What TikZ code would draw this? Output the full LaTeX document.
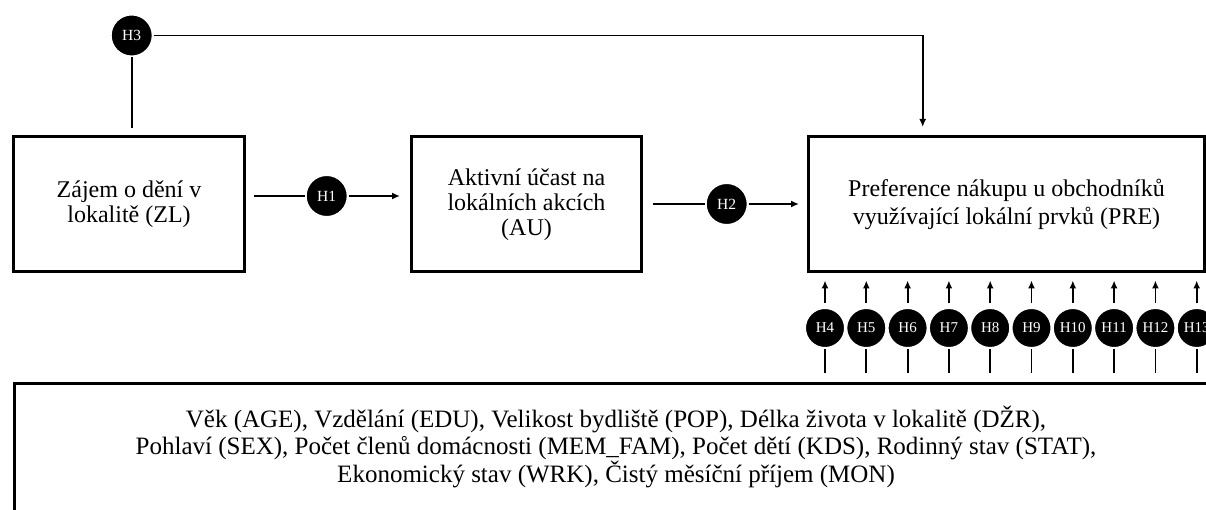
\documentclass[tikz,border=0pt]{standalone}
\usepackage{fontspec}
\setmainfont{Liberation Serif}
\usetikzlibrary{arrows.meta}

\begin{document}
\begin{tikzpicture}[x=1pt,y=-1pt,
  box/.style={draw=black, line width=3pt, inner sep=0pt, align=center,
    anchor=north west, font=\fontsize{24}{25}\selectfont},
  hyp/.style={circle, fill=black, draw=white, line width=2pt, inner sep=0pt,
    minimum size=42pt, text=white, font=\fontsize{15.5}{16}\selectfont},
  hypsmall/.style={hyp, minimum size=40pt, font=\fontsize{15}{16}\selectfont},
  conn/.style={line width=1.8pt},
  arr/.style={conn, -{Latex[length=8pt,width=7pt]}},
]
\useasboundingbox (0,0) rectangle (1206,510);
\clip (0,0) rectangle (1206,510);

% main constructs
\node[box, minimum width=231pt, minimum height=135.5pt] (zl) at (12,135)
  {Zájem o dění v\\lokalitě (ZL)};
\node[box, minimum width=230pt, minimum height=135.5pt] (au) at (410,135)
  {Aktivní účast na\\lokálních akcích\\(AU)};
\node[box, minimum width=396pt, minimum height=135.5pt,
  font=\fontsize{24}{28.5}\selectfont] (pre) at (807,135)
  {Preference nákupu u obchodníků\\využívající lokální prvků (PRE)};

% socio-demographic variables
\node[box, minimum width=1205pt, minimum height=150pt] (demo) at (13,382) {};
\node[align=center, font=\fontsize{25}{26.5}\selectfont] (demotxt) at (616,447)
  {Věk (AGE), Vzdělání (EDU), Velikost bydliště (POP), Délka života v lokalitě (DŽR),\\
   Pohlaví (SEX), Počet členů domácnosti (MEM\_FAM), Počet dětí (KDS), Rodinný stav (STAT),\\
   Ekonomický stav (WRK), Čistý měsíční příjem (MON)};

% hypotheses between constructs
\node[hyp] (h3) at (131.7,35.5) {H3};
\node[hyp] (h1) at (326.7,196) {H1};
\node[hyp] (h2) at (726.7,204) {H2};
\coordinate (h3turn) at (922.7,35.5);

\draw[conn, shorten >=7pt] (h3) -- (h3 |- zl.north);
\draw[arr, shorten >=8pt] (h3) -- (h3turn) -- (h3turn |- pre.north);
\draw[conn, shorten <=8pt] (h1 -| zl.east) -- (h1);
\draw[arr, shorten >=10pt] (h1) -- (h1 -| au.west);
\draw[conn, shorten <=10pt] (h2 -| au.east) -- (h2);
\draw[arr, shorten >=8pt] (h2) -- (h2 -| pre.west);

% hypotheses on the control variables
\foreach \n [count=\i from 0] in {4,...,13} {
  \node[hypsmall] (h\n) at ({825+41.3*\i},328) {H\n};
  \draw[arr, shorten <=4pt, shorten >=7pt] (h\n) -- (h\n |- pre.south);
  \draw[conn, shorten >=9pt] (h\n) -- (h\n |- demo.north);
}
\end{tikzpicture}
\end{document}
